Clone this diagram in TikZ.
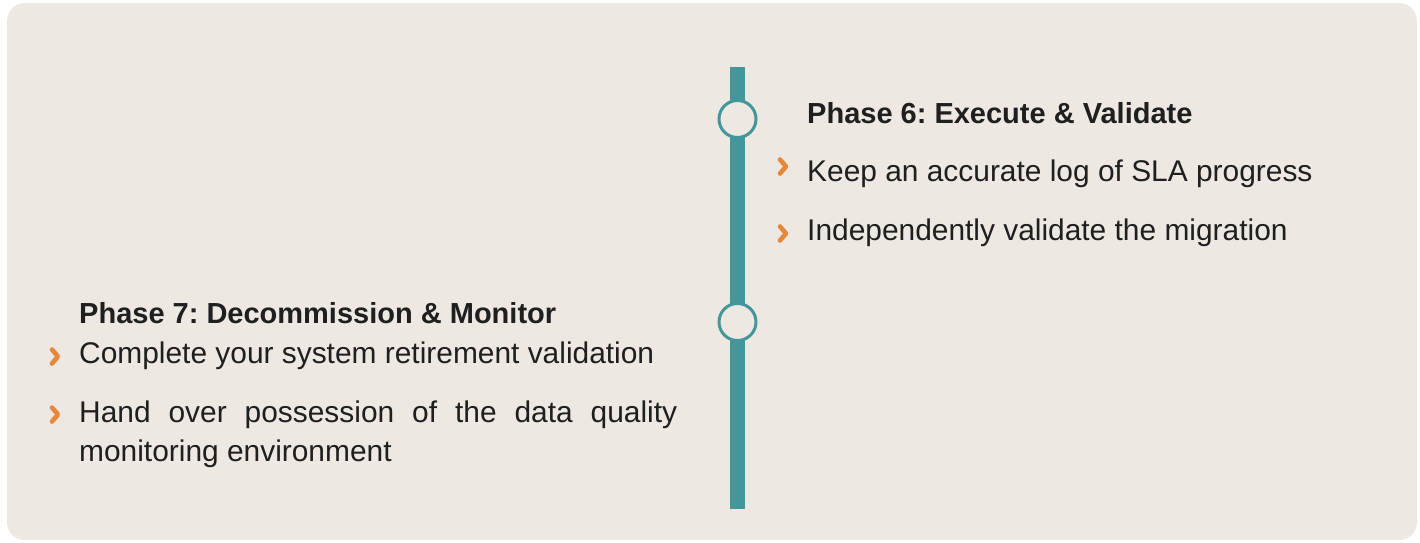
\documentclass[tikz,border=0pt]{standalone}
\usepackage{fontspec}
\setmainfont{Liberation Sans}
\frenchspacing
\definecolor{bg}{HTML}{EDE8E2}
\definecolor{teal}{HTML}{43979A}
\definecolor{orng}{HTML}{E8863A}
\definecolor{ink}{HTML}{1F1F1F}
\begin{document}
\begin{tikzpicture}[x=1pt,y=-1pt,
  body/.style={anchor=base west,inner sep=0pt,text=ink,font=\fontsize{29.9}{39}\selectfont},
  head/.style={anchor=base west,inner sep=0pt,text=ink,font=\fontsize{29}{36}\selectfont\bfseries},
  ring/.style={circle,draw=teal,line width=3pt,fill=bg,minimum size=37pt,inner sep=0pt},
  chev/.style={draw=orng,line width=4.6pt,line cap=round,line join=round}]
\useasboundingbox (0,0) rectangle (1420,542);
\fill[white] (0,0) rectangle (1420,542);
\fill[bg,rounded corners=18pt] (7,3) rectangle (1417,540);
% timeline bar
\fill[teal] (730,67) rectangle (745,509);
\node[ring] (c6) at (737.5,119) {};
\node[ring] (c7) at (737.5,322) {};
% Phase 6
\node[head] (h6) at (807,123) {Phase 6: Execute \& Validate};
\node[body] (p61) at (807,181) {Keep an accurate log of SLA progress};
\node[body] (p62) at (807,240) {Independently validate the migration};
\draw[chev] (780,159.5) -- (786,166.5) -- (780,173.5);
\draw[chev] (780,226.5) -- (786,233.5) -- (780,240.5);
% Phase 7
\node[head] (h7) at (79,323) {Phase 7: Decommission \& Monitor};
\node[body] (p71) at (79,363) {Complete your system retirement validation};
\node[body] (p72a) at (79,422) {\makebox[598pt][s]{Hand over possession of the data quality}};
\node[body] (p72b) at (79,461) {monitoring environment};
\draw[chev] (52,349.5) -- (58,356.5) -- (52,363.5);
\draw[chev] (52,407.5) -- (58,414.5) -- (52,421.5);
\end{tikzpicture}
\end{document}
